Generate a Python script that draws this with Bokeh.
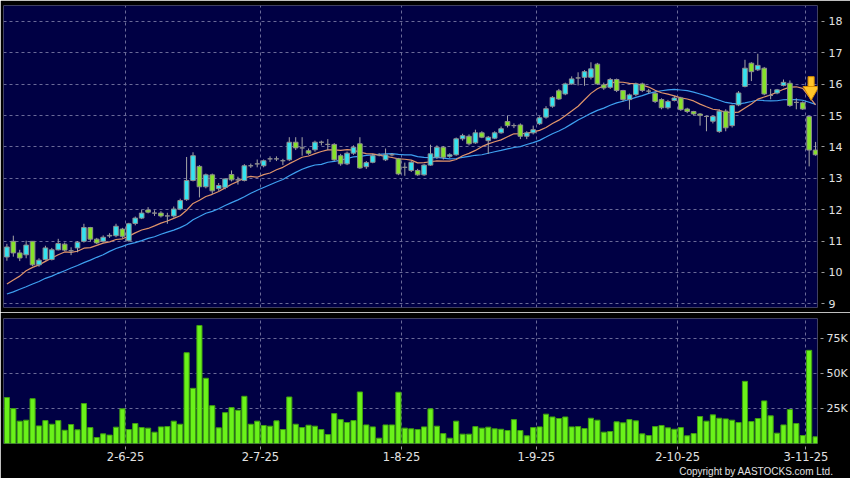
import numpy as np
import pandas as pd
from bokeh.plotting import figure
from bokeh.layouts import column
from bokeh.models import (Range1d, FixedTicker, Grid, Title, ColumnDataSource,
                          CustomJSTickFormatter)
from bokeh.embed import file_html
from bokeh.resources import INLINE

# ---------------- data ----------------
open_ = [10.49, 10.99, 10.62, 10.56, 10.99, 10.24, 10.41, 10.41, 10.72, 10.90,
         10.69, 10.78, 10.99, 11.43, 11.06, 10.99, 11.16, 11.17, 11.38, 11.01,
         11.56, 11.73, 11.99, 11.89, 11.89, 11.80, 11.80, 12.02, 12.32, 12.93,
         13.38, 12.73, 13.11, 12.67, 12.71, 13.12, 12.95, 12.93, 13.40, 13.46,
         13.40, 13.62, 13.62, 13.56, 13.59, 14.15, 13.97, 13.88, 13.91, 14.15,
         14.08, 14.08, 13.72, 13.46, 13.80, 14.10, 13.37, 13.51, 13.75, 13.59,
         13.75, 13.62, 13.35, 13.25, 13.25, 13.11, 13.42, 13.67, 13.99, 13.70,
         13.75, 14.26, 14.34, 14.13, 14.45, 14.20, 14.28, 14.45, 14.81, 14.68,
         14.70, 14.34, 14.45, 14.74, 14.95, 15.30, 15.79, 15.69, 16.01, 16.20,
         16.22, 16.22, 16.64, 15.98, 15.90, 16.15, 15.80, 15.51, 15.67, 16.01,
         15.78, 15.71, 15.51, 15.25, 15.48, 15.56, 15.21, 15.13, 15.05, 14.97,
         14.82, 14.49, 15.14, 14.68, 15.34, 15.93, 16.67, 16.46, 16.51, 15.64,
         15.72, 15.96, 16.03, 15.42, 15.41, 14.97, 13.90]
high = [10.91, 11.17, 10.72, 11.01, 11.00, 10.45, 10.85, 10.78, 11.07, 10.95,
        10.80, 11.00, 11.55, 11.45, 11.10, 11.18, 11.25, 11.55, 11.42, 11.58,
        11.78, 12.00, 12.08, 11.98, 11.95, 11.90, 12.10, 12.35, 13.68, 13.83,
        13.42, 13.15, 13.15, 12.85, 13.00, 13.25, 13.05, 13.45, 13.47, 13.60,
        13.60, 13.70, 13.70, 13.62, 14.31, 14.31, 14.31, 13.95, 14.20, 14.20,
        14.25, 14.12, 13.78, 13.85, 14.05, 14.31, 13.55, 13.78, 13.80, 13.95,
        13.80, 13.65, 13.50, 13.55, 13.30, 13.45, 14.07, 14.05, 14.03, 13.80,
        14.30, 14.42, 14.40, 14.55, 14.50, 14.35, 14.50, 14.65, 15.00, 14.75,
        14.75, 14.50, 14.68, 14.98, 15.30, 15.62, 15.85, 16.05, 16.25, 16.38,
        16.45, 16.70, 16.68, 16.05, 16.20, 16.18, 15.82, 15.70, 16.05, 16.05,
        15.85, 15.75, 15.55, 15.50, 15.62, 15.60, 15.25, 15.15, 15.08, 15.00,
        15.00, 15.20, 15.20, 15.35, 15.78, 16.78, 16.70, 16.97, 16.55, 15.85,
        15.85, 16.15, 16.12, 15.55, 15.45, 14.97, 14.16]
low = [10.37, 10.50, 10.36, 10.45, 10.20, 10.18, 10.38, 10.38, 10.70, 10.68,
       10.55, 10.64, 10.95, 10.98, 10.90, 10.95, 11.10, 11.12, 11.10, 10.98,
       11.50, 11.70, 11.88, 11.80, 11.75, 11.55, 11.75, 11.98, 12.28, 12.90,
       12.39, 12.68, 12.50, 12.60, 12.65, 12.90, 12.80, 12.90, 13.33, 13.35,
       13.35, 13.52, 13.55, 13.42, 13.55, 13.90, 13.72, 13.75, 13.85, 14.05,
       13.90, 13.55, 13.40, 13.42, 13.75, 13.30, 13.30, 13.48, 13.70, 13.55,
       13.70, 13.10, 13.08, 13.20, 13.08, 13.08, 13.40, 13.62, 13.60, 13.65,
       13.72, 14.20, 14.05, 14.10, 14.28, 13.78, 14.25, 14.42, 14.62, 14.60,
       14.25, 14.25, 14.40, 14.70, 14.90, 15.25, 15.50, 15.65, 15.98, 15.96,
       15.95, 16.15, 15.98, 15.82, 15.85, 15.75, 15.45, 15.19, 15.62, 15.75,
       15.70, 15.40, 15.20, 15.20, 15.45, 15.15, 15.08, 15.00, 14.68, 14.50,
       14.75, 14.45, 14.50, 14.62, 15.30, 15.90, 16.10, 16.42, 15.65, 15.52,
       15.68, 15.93, 15.28, 15.20, 15.18, 13.38, 13.72]
close = [10.81, 10.62, 10.46, 10.87, 10.24, 10.39, 10.78, 10.72, 10.92, 10.71,
         10.69, 10.96, 11.43, 11.06, 10.94, 11.12, 11.18, 11.47, 11.15, 11.55,
         11.73, 11.89, 11.92, 11.89, 11.80, 11.80, 12.02, 12.29, 12.93, 13.72,
         12.73, 13.11, 12.60, 12.77, 12.98, 12.95, 12.95, 13.40, 13.40, 13.46,
         13.56, 13.62, 13.62, 13.56, 14.15, 13.97, 13.97, 13.80, 14.15, 14.15,
         14.08, 13.59, 13.46, 13.80, 13.99, 13.33, 13.50, 13.72, 13.75, 13.75,
         13.75, 13.14, 13.35, 13.51, 13.11, 13.42, 13.78, 13.99, 13.67, 13.75,
         14.26, 14.36, 14.10, 14.45, 14.31, 14.31, 14.45, 14.58, 14.68, 14.68,
         14.34, 14.45, 14.55, 14.93, 15.22, 15.58, 15.53, 16.01, 16.17, 16.20,
         16.40, 16.49, 16.01, 15.88, 16.15, 15.80, 15.51, 15.66, 16.01, 15.80,
         15.78, 15.45, 15.25, 15.45, 15.56, 15.19, 15.13, 15.05, 15.00, 14.97,
         14.97, 15.14, 14.61, 15.32, 15.72, 16.51, 16.40, 16.60, 15.69, 15.64,
         15.82, 16.06, 15.32, 15.42, 15.21, 13.90, 13.75]
volume_k = [32.9, 25.0, 16.0, 16.7, 32.1, 12.6, 16.4, 13.8, 16.4, 9.5,
            13.6, 9.8, 28.6, 11.4, 4.3, 6.9, 6.0, 11.7, 24.8, 10.0,
            14.3, 11.4, 11.0, 8.1, 11.9, 12.1, 16.0, 13.8, 65.0, 39.5,
            84.5, 46.7, 27.1, 11.2, 22.1, 25.7, 23.8, 33.8, 13.8, 16.0,
            12.9, 12.4, 16.2, 10.0, 33.3, 13.8, 11.4, 13.1, 12.4, 10.0,
            6.4, 21.4, 17.1, 15.0, 16.4, 36.9, 13.3, 11.9, 3.8, 13.3,
            13.3, 36.7, 11.0, 10.5, 10.0, 11.9, 24.8, 12.4, 7.1, 3.8,
            16.0, 6.7, 6.7, 12.1, 11.0, 11.7, 10.5, 10.2, 9.3, 17.1,
            9.3, 5.5, 11.4, 11.9, 21.0, 19.0, 17.9, 19.0, 11.9, 12.1,
            10.7, 18.1, 16.7, 8.1, 8.6, 15.5, 14.8, 17.1, 16.2, 6.9,
            5.7, 12.1, 12.9, 11.2, 10.2, 11.4, 5.5, 7.1, 19.3, 16.0,
            20.5, 18.1, 17.6, 16.7, 15.0, 44.5, 15.7, 17.9, 30.5, 19.8,
            7.4, 13.3, 24.3, 14.3, 5.7, 66.7, 4.8]
# moving-average values at the left edge (their windows start before the chart)
ma10_head = [9.63, 9.76, 9.88, 10.05, 10.16, 10.24, 10.35, 10.46, 10.56]
ma20_head = [9.31, 9.38, 9.46, 9.54, 9.63, 9.71, 9.81, 9.88, 9.97, 10.05,
             10.14, 10.22, 10.31, 10.39, 10.48, 10.56, 10.67, 10.76, 10.83]
price_ticks = [9, 10, 11, 12, 13, 14, 15, 16, 17, 18]
volume_ticks = [25, 50, 75]
date_pos = [18.5, 39.5, 61.5, 82.5, 104.5, 124.5]
date_labels = ["2-6-25", "2-7-25", "1-8-25", "1-9-25", "2-10-25", "3-11-25"]
signal_x = [125.3]
signal_top = [16.24]
signal_tip = [15.54]

# ---------------- styling ----------------
BG = "#000044"
UP = "#33e3f0"
DOWN = "#86e22a"
DOJI = "#a0a0a0"
OUTLINE = "#8e8e8e"
WICK = "#a6a6a6"
GRID = "#6a6a98"
TXT = "#e2e2e2"
VOLC = "#6af21a"
VOLL = "#3f9f10"

o = np.array(open_); h = np.array(high); l = np.array(low); c = np.array(close)
n = len(c)
idx = np.arange(n)
colors = np.where(c > o, UP, np.where(c < o, DOWN, DOJI))
ma10 = pd.Series(c).rolling(10).mean().to_numpy()
ma10[:len(ma10_head)] = ma10_head
ma20 = pd.Series(c).rolling(20).mean().to_numpy()
ma20[:len(ma20_head)] = ma20_head

src = ColumnDataSource(dict(x=idx, o=o, h=h, l=l, c=c,
                            top=np.maximum(o, c), bottom=np.minimum(o, c),
                            color=colors, vol=volume_k, ma10=ma10, ma20=ma20))

x_range = Range1d(-0.53, 126.3)

p = figure(width=850, height=312, x_range=x_range, y_range=Range1d(8.88, 18.51),
           output_backend="svg", toolbar_location=None,
           x_axis_location=None, y_axis_location="right",
           background_fill_color=BG, border_fill_color="black",
           outline_line_color=None,
           min_border_left=3, min_border_right=33, min_border_top=5, min_border_bottom=5)


def style_right_axis(ax, ticks):
    ax.ticker = FixedTicker(ticks=ticks)
    ax.axis_line_color = None
    ax.major_tick_line_color = "#9a9a9a"
    ax.major_tick_in = -4
    ax.major_tick_out = 7
    ax.minor_tick_line_color = None
    ax.major_label_standoff = 4
    ax.major_label_text_color = TXT
    ax.major_label_text_font = "DejaVu Sans"
    ax.major_label_text_font_size = "11px"


style_right_axis(p.yaxis[0], price_ticks)
for g in p.grid:
    g.visible = False
p.add_layout(Grid(dimension=1, ticker=FixedTicker(ticks=price_ticks),
                  grid_line_color=GRID, grid_line_dash="3 3", grid_line_width=1))
p.add_layout(Grid(dimension=0, ticker=FixedTicker(ticks=date_pos),
                  grid_line_color=GRID, grid_line_dash="3 3", grid_line_width=1))

p.line("x", "ma20", source=src, line_color="#3ea0f0", line_width=1.2)
p.line("x", "ma10", source=src, line_color="#e0946a", line_width=1.2)
p.segment(x0="x", y0="l", x1="x", y1="h", source=src, line_color=WICK, line_width=1)
p.vbar(x="x", width=0.72, top="top", bottom="bottom", fill_color="color",
       line_color=OUTLINE, line_width=1, source=src)

# sell-signal arrow
sig_x = np.array(signal_x)
sig_tip = np.array(signal_tip)
p.vbar(x=sig_x, width=0.95, top=signal_top, bottom=sig_tip + 0.3,
       fill_color="#ffc52a", line_color="#d98e00", line_width=1)
p.scatter(x=sig_x, y=sig_tip + 0.24, marker="inverted_triangle", size=16,
          fill_color="#ffc52a", line_color="#d98e00", line_width=1)

# ---------------- volume panel ----------------
p2 = figure(width=850, height=166, x_range=x_range, y_range=Range1d(0, 89.5),
            output_backend="svg", toolbar_location=None,
            y_axis_location="right",
            background_fill_color=BG, border_fill_color="black",
            outline_line_color=None,
            min_border_left=3, min_border_right=33, min_border_top=6, min_border_bottom=35)
p2.vbar(x="x", width=0.8, top="vol", bottom=0, fill_color=VOLC,
        line_color=VOLL, line_width=1, source=src)

style_right_axis(p2.yaxis[0], volume_ticks)
p2.yaxis[0].major_tick_in = -3
p2.yaxis[0].major_tick_out = 6
p2.yaxis[0].major_label_standoff = 3
p2.yaxis[0].formatter = CustomJSTickFormatter(code="return tick + 'K';")

xa = p2.xaxis[0]
xa.ticker = FixedTicker(ticks=date_pos)
xa.formatter = CustomJSTickFormatter(args=dict(pos=date_pos, labels=date_labels),
                                     code="const i = pos.indexOf(tick); return i >= 0 ? labels[i] : '';")
xa.axis_line_color = None
xa.major_tick_line_color = "#9a9a9a"
xa.major_tick_in = -3
xa.major_tick_out = 6
xa.minor_tick_line_color = None
xa.major_label_standoff = 2
xa.major_label_text_color = TXT
xa.major_label_text_font = "DejaVu Sans"
xa.major_label_text_font_size = "11.5px"

for g in p2.grid:
    g.visible = False
p2.add_layout(Grid(dimension=1, ticker=FixedTicker(ticks=volume_ticks),
                   grid_line_color=GRID, grid_line_dash="3 3", grid_line_width=1))
p2.add_layout(Grid(dimension=0, ticker=FixedTicker(ticks=date_pos),
                   grid_line_color=GRID, grid_line_dash="3 3", grid_line_width=1))

p2.add_layout(Title(text="Copyright by AASTOCKS.com Ltd.", align="right",
                    offset=-16, standoff=0, text_color=TXT,
                    text_font="Liberation Sans", text_font_size="10px",
                    text_font_style="normal"), "below")

layout = column(p, p2, spacing=0)
open("out.html", "w").write(file_html(layout, INLINE))
